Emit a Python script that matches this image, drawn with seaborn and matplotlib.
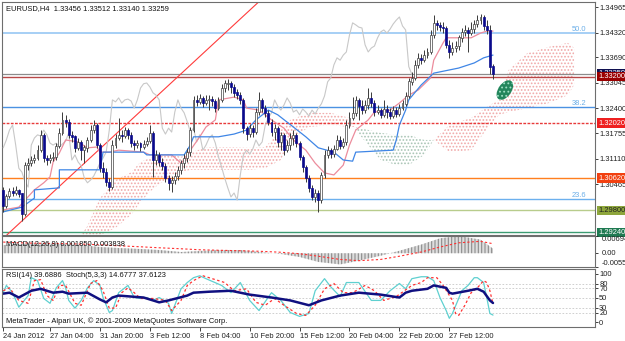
import matplotlib
matplotlib.use("Agg")
import matplotlib.pyplot as plt
import matplotlib.transforms as mtransforms
from matplotlib.patches import Ellipse
import seaborn as sns
import numpy as np

# ---------------- data (EURUSD H4) ----------------
first_open = 1.3032
closes = [1.2991, 1.3016, 1.3029, 1.3024, 1.3032, 1.3022, 1.2971, 1.3095, 1.3100, 1.3108,
          1.3113, 1.3133, 1.3172, 1.3113, 1.3108, 1.3113, 1.3116, 1.3144, 1.3177, 1.3210,
          1.3205, 1.3172, 1.3167, 1.3139, 1.3154, 1.3133, 1.3139, 1.3159, 1.3184, 1.3197,
          1.3146, 1.3087, 1.3077, 1.3052, 1.3039, 1.3146, 1.3164, 1.3172, 1.3169, 1.3184,
          1.3172, 1.3151, 1.3146, 1.3151, 1.3141, 1.3149, 1.3156, 1.3177, 1.3108, 1.3121,
          1.3103, 1.3093, 1.3062, 1.3050, 1.3057, 1.3067, 1.3083, 1.3100, 1.3113, 1.3128,
          1.3184, 1.3261, 1.3256, 1.3266, 1.3253, 1.3261, 1.3263, 1.3258, 1.3240, 1.3261,
          1.3291, 1.3302, 1.3304, 1.3294, 1.3279, 1.3273, 1.3261, 1.3189, 1.3174, 1.3189,
          1.3179, 1.3230, 1.3261, 1.3240, 1.3228, 1.3205, 1.3179, 1.3189, 1.3154, 1.3172,
          1.3133, 1.3146, 1.3164, 1.3172, 1.3151, 1.3116, 1.3090, 1.3062, 1.3037, 1.3014,
          1.3024, 1.3006, 1.3070, 1.3121, 1.3133, 1.3123, 1.3136, 1.3159, 1.3144, 1.3154,
          1.3197, 1.3215, 1.3228, 1.3261, 1.3245, 1.3235, 1.3248, 1.3266, 1.3253, 1.3230,
          1.3235, 1.3223, 1.3238, 1.3230, 1.3220, 1.3235, 1.3225, 1.3240, 1.3251, 1.3271,
          1.3307, 1.3317, 1.3350, 1.3368, 1.3362, 1.3375, 1.3383, 1.3426, 1.3457, 1.3452,
          1.3446, 1.3444, 1.3401, 1.3383, 1.3393, 1.3398, 1.3419, 1.3434, 1.3439, 1.3431,
          1.3441, 1.3454, 1.3464, 1.3472, 1.3449, 1.3439, 1.33456, 1.33259]
highs = [1.3039, 1.3022, 1.3037, 1.3039, 1.3042, 1.3034, 1.3024, 1.3103, 1.3113, 1.3118,
         1.3123, 1.3146, 1.3184, 1.3177, 1.3121, 1.3123, 1.3128, 1.3151, 1.3189, 1.3230,
         1.3223, 1.3212, 1.3182, 1.3172, 1.3164, 1.3159, 1.3146, 1.3167, 1.3197, 1.3210,
         1.3202, 1.3151, 1.3103, 1.3087, 1.3062, 1.3159, 1.3174, 1.3215, 1.3184, 1.3192,
         1.3189, 1.3179, 1.3159, 1.3159, 1.3154, 1.3159, 1.3167, 1.3197, 1.3182, 1.3133,
         1.3128, 1.3113, 1.3100, 1.3070, 1.3067, 1.3077, 1.3093, 1.3108, 1.3123, 1.3139,
         1.3192, 1.3271, 1.3273, 1.3276, 1.3271, 1.3273, 1.3273, 1.3271, 1.3263, 1.3268,
         1.3302, 1.3312, 1.3314, 1.3309, 1.3302, 1.3289, 1.3281, 1.3266, 1.3194, 1.3200,
         1.3197, 1.3240, 1.3281, 1.3266, 1.3248, 1.3235, 1.3212, 1.3200, 1.3194, 1.3179,
         1.3177, 1.3159, 1.3177, 1.3184, 1.3177, 1.3156, 1.3121, 1.3095, 1.3070, 1.3044,
         1.3034, 1.3032, 1.3077, 1.3133, 1.3144, 1.3139, 1.3146, 1.3172, 1.3169, 1.3164,
         1.3210, 1.3230, 1.3268, 1.3271, 1.3266, 1.3261, 1.3261, 1.3291, 1.3281, 1.3261,
         1.3248, 1.3240, 1.3261, 1.3248, 1.3240, 1.3245, 1.3243, 1.3251, 1.3261, 1.3281,
         1.3317, 1.3332, 1.3362, 1.3380, 1.3378, 1.3388, 1.3393, 1.3439, 1.3477, 1.3464,
         1.3459, 1.3459, 1.3449, 1.3413, 1.3408, 1.3411, 1.3426, 1.3444, 1.3452, 1.3446,
         1.3459, 1.3464, 1.3477, 1.3480, 1.3477, 1.3464, 1.3452, 1.33512]
lows = [1.2976, 1.2986, 1.3011, 1.3016, 1.3019, 1.3014, 1.2953, 1.2966, 1.3083, 1.3093,
        1.3100, 1.3108, 1.3128, 1.3103, 1.3095, 1.3100, 1.3105, 1.3108, 1.3139, 1.3172,
        1.3192, 1.3164, 1.3154, 1.3128, 1.3133, 1.3108, 1.3100, 1.3128, 1.3154, 1.3177,
        1.3139, 1.3077, 1.3062, 1.3042, 1.3029, 1.3034, 1.3139, 1.3159, 1.3154, 1.3164,
        1.3161, 1.3141, 1.3133, 1.3139, 1.3131, 1.3136, 1.3144, 1.3151, 1.3065, 1.3095,
        1.3093, 1.3083, 1.3052, 1.3032, 1.3027, 1.3047, 1.3057, 1.3072, 1.3087, 1.3103,
        1.3118, 1.3179, 1.3245, 1.3251, 1.3243, 1.3248, 1.3235, 1.3245, 1.3230, 1.3235,
        1.3256, 1.3281, 1.3286, 1.3279, 1.3268, 1.3263, 1.3251, 1.3177, 1.3159, 1.3167,
        1.3167, 1.3174, 1.3223, 1.3230, 1.3218, 1.3197, 1.3169, 1.3159, 1.3141, 1.3133,
        1.3121, 1.3128, 1.3133, 1.3146, 1.3141, 1.3108, 1.3077, 1.3052, 1.3027, 1.3006,
        1.3001, 1.2976, 1.2999, 1.3062, 1.3113, 1.3113, 1.3116, 1.3133, 1.3136, 1.3139,
        1.3146, 1.3189, 1.3210, 1.3220, 1.3210, 1.3225, 1.3228, 1.3238, 1.3243, 1.3220,
        1.3225, 1.3215, 1.3218, 1.3215, 1.3212, 1.3215, 1.3218, 1.3220, 1.3235, 1.3245,
        1.3266, 1.3299, 1.3312, 1.3342, 1.3352, 1.3357, 1.3368, 1.3378, 1.3419, 1.3439,
        1.3436, 1.3431, 1.3393, 1.3368, 1.3375, 1.3383, 1.3388, 1.3408, 1.3424, 1.3383,
        1.3426, 1.3431, 1.3446, 1.3454, 1.3439, 1.3429, 1.3327, 1.33140]

# Ichimoku lines (bar index, price)
tenkan_bar = [0, 5, 7, 10, 13, 15, 16, 18, 20, 24, 27, 30, 31, 34, 37, 45, 47, 54, 57, 58,
              60, 63, 65, 68, 69, 74, 77, 78, 82, 86, 90, 93, 97, 100, 103, 106, 109, 111,
              113, 117, 119, 124, 127, 130, 133, 137, 138, 141, 142, 146, 150, 153, 155, 157]
tenkan_val = [1.2981, 1.2988, 1.3006, 1.3032, 1.3050, 1.3065, 1.3103, 1.3126, 1.3159, 1.3154,
              1.3139, 1.3141, 1.3128, 1.3128, 1.3133, 1.3128, 1.3121, 1.3121, 1.3100, 1.3108,
              1.3133, 1.3167, 1.3192, 1.3210, 1.3261, 1.3268, 1.3261, 1.3240, 1.3235, 1.3210,
              1.3189, 1.3159, 1.3133, 1.3100, 1.3075, 1.3070, 1.3095, 1.3146, 1.3184, 1.3210,
              1.3230, 1.3235, 1.3253, 1.3273, 1.3286, 1.3317, 1.3362, 1.3406, 1.3419, 1.3419,
              1.3419, 1.3431, 1.3436, 1.3436]
kijun_bar = [0, 6, 10, 10, 18, 18, 31, 32, 45, 46, 58, 60, 61, 69, 74, 78, 81, 85, 88, 93,
             97, 101, 106, 109, 112, 113, 125, 126, 127, 129, 130, 134, 138, 146, 151, 154, 157]
kijun_val = [1.2976, 1.2988, 1.3011, 1.3032, 1.3037, 1.3083, 1.3083, 1.3128, 1.3128, 1.3121,
             1.3121, 1.3146, 1.3167, 1.3167, 1.3174, 1.3184, 1.3210, 1.3235, 1.3223, 1.3192,
             1.3167, 1.3139, 1.3128, 1.3108, 1.3105, 1.3128, 1.3133, 1.3159, 1.3197, 1.3235,
             1.3261, 1.3299, 1.3329, 1.3342, 1.3355, 1.3368, 1.3375]
chikou_shift = 26

# cloud (senkou span A / B), extends 26 bars past the last candle
cloud_bar = [25, 27, 31, 36, 41, 44, 47, 50, 54, 57, 60, 66, 73, 79, 84, 89, 92, 98, 105,
             111, 113, 121, 126, 130, 135, 138, 143, 150, 156, 159, 162, 168, 175, 181, 183]
span_a = [1.2917, 1.2940, 1.3011, 1.3057, 1.3077, 1.3103, 1.3113, 1.3118, 1.3121, 1.3116,
          1.3128, 1.3141, 1.3141, 1.3139, 1.3141, 1.3184, 1.3210, 1.3228, 1.3228, 1.3215,
          1.3184, 1.3108, 1.3095, 1.3095, 1.3121, 1.3159, 1.3197, 1.3215, 1.3248, 1.3261,
          1.3337, 1.3380, 1.3396, 1.3406, 1.3393]
span_b = [1.2917, 1.2917, 1.2917, 1.2935, 1.2968, 1.3001, 1.3027, 1.3047, 1.3067, 1.3077,
          1.3083, 1.3083, 1.3083, 1.3083, 1.3087, 1.3108, 1.3159, 1.3192, 1.3197, 1.3192,
          1.3192, 1.3177, 1.3172, 1.3172, 1.3159, 1.3159, 1.3128, 1.3133, 1.3197, 1.3223,
          1.3230, 1.3240, 1.3253, 1.3273, 1.3299]

# horizontal levels
bid_price = 1.33259
levels = [1.33200, 1.32020, 1.30620, 1.29800, 1.29240]
level_colors = ['#b84848', '#e83a3a', '#ff7f1e', '#b8cc8c', '#3c9c72']
level_box = ['#9a0000', '#ee2020', '#f24010', '#8ea63c', '#1f7a52']
fib_levels = [1.3432, 1.3243, 1.3009]
fib_names = ['50.0', '38.2', '23.6']
trend_anchor = [(6.3, 1.2955), (58.3, 1.3337)]
ellipse_center = (160.8, 1.3286)

price_ticks = [1.34965, 1.34320, 1.33690, 1.33045, 1.32400, 1.31755, 1.31110, 1.30465]

# MACD(12,26,9): main shown as histogram, signal as dotted line
macd_bar = [0, 5, 12, 18, 25, 31, 37, 44, 50, 57, 63, 69, 76, 82, 89, 95, 101, 108, 114,
            121, 127, 134, 140, 146, 153, 157]
macd_main = [0.0033, 0.0037, 0.0041, 0.0037, 0.0033, 0.0025, 0.0021, 0.0017, 0.0013, 0.0005,
             0.0009, 0.0013, 0.0013, 0.0005, -0.0003, -0.0015, -0.0035, -0.0045, -0.0030,
             -0.0010, 0.0010, 0.0035, 0.0060, 0.0069, 0.0055, 0.00185]
macd_sig = [0.0045, 0.0042, 0.0040, 0.0039, 0.0037, 0.0034, 0.0030, 0.0026, 0.0022, 0.0018,
            0.0014, 0.0012, 0.0010, 0.0008, 0.0004, -0.0002, -0.0012, -0.0025, -0.0030,
            -0.0025, -0.0012, 0.0005, 0.0025, 0.0042, 0.0048, 0.003838]

# RSI(14) and Stochastic(5,3,3)
rsi_bar = [0, 2, 5, 9, 12, 16, 19, 21, 27, 31, 33, 35, 37, 45, 48, 50, 53, 59, 61, 66,
           73, 79, 86, 92, 98, 102, 108, 114, 121, 127, 129, 131, 136, 138, 142, 143,
           144, 149, 152, 154, 156, 157]
rsi_val = [59, 61, 51, 65, 69, 61, 63, 59, 61, 47, 41, 51, 55, 51, 45, 41, 45, 55, 61, 63,
           65, 57, 51, 45, 35, 45, 55, 61, 57, 51, 61, 65, 69, 76, 71, 61, 59, 65, 69, 63,
           45, 39.69]
stoch_bar = [0, 1, 3, 5, 8, 9, 11, 13, 15, 17, 19, 20, 21, 23, 25, 27, 29, 31, 32, 34, 35,
             37, 40, 42, 44, 46, 48, 50, 53, 54, 57, 59, 61, 63, 65, 70, 73, 76, 79, 82,
             86, 89, 92, 95, 98, 100, 103, 105, 108, 110, 114, 118, 121, 124, 127, 129,
             131, 134, 136, 138, 140, 142, 143, 144, 146, 147, 149, 151, 152, 154, 155, 156, 157]
stoch_main = [61, 76, 61, 31, 55, 92, 86, 49, 39, 71, 86, 71, 45, 29, 45, 71, 86, 76, 51, 20,
              24, 61, 76, 51, 49, 51, 45, 51, 39, 18, 69, 82, 92, 96, 90, 76, 61, 82, 45, 24,
              61, 45, 20, 12, 18, 65, 90, 73, 53, 82, 82, 45, 45, 65, 80, 69, 90, 94, 94, 86,
              51, 24, 8, 18, 49, 65, 76, 92, 92, 82, 51, 18, 14.68]
stoch_sig_bar = [0, 2, 5, 8, 10, 12, 14, 16, 18, 20, 23, 25, 28, 30, 32, 34, 36, 38, 40, 42,
                 44, 48, 52, 54, 57, 59, 61, 64, 66, 71, 74, 78, 81, 84, 87, 90, 94, 97, 100,
                 103, 106, 109, 112, 116, 119, 122, 126, 131, 134, 136, 139, 141, 144, 145,
                 146, 148, 150, 152, 154, 155, 156, 157]
stoch_sig = [65, 71, 45, 39, 86, 88, 55, 45, 76, 76, 39, 35, 80, 86, 65, 29, 29, 61, 71, 61,
             49, 49, 45, 24, 45, 76, 86, 96, 92, 82, 65, 69, 41, 35, 49, 35, 18, 14, 35, 69,
             80, 61, 61, 76, 65, 45, 53, 76, 82, 92, 92, 76, 45, 18, 14, 35, 61, 71, 86, 82,
             65, 37.61]

date_bar = [0, 15, 31, 47, 63, 79, 95, 111, 127, 143]
date_txt = ['24 Jan 2012', '27 Jan 04:00', '31 Jan 20:00', '3 Feb 12:00', '8 Feb 04:00',
            '10 Feb 20:00', '15 Feb 12:00', '20 Feb 04:00', '22 Feb 20:00', '27 Feb 12:00']

# ---------------- figure ----------------
sns.set_theme(style="white")
plt.rcParams['font.family'] = ['Liberation Sans', 'DejaVu Sans']
plt.rcParams['hatch.linewidth'] = 0.8
FS = 5.4

W, H = 625, 341
fig = plt.figure(figsize=(W / 100, H / 100), dpi=100, facecolor='white')
left, right = 2 / W, 595 / W
ax = fig.add_axes([left, 1 - 235 / H, right - left, 233 / H])
ax_macd = fig.add_axes([left, 1 - 267 / H, right - left, 31 / H])
ax_rsi = fig.add_axes([left, 1 - 327 / H, right - left, 58 / H])

xlim = (-0.39, 189.7)
for a in (ax, ax_macd, ax_rsi):
    a.set_xlim(*xlim)
    a.set_facecolor('white')
    for s in a.spines.values():
        s.set_color('#6e6e6e')
        s.set_linewidth(0.8)
    a.tick_params(axis='both', labelsize=FS, colors='#202020', length=2, width=0.6, pad=1)
    a.yaxis.tick_right()
    a.set_xticks([])

ax.set_ylim(1.29171, 1.35101)

closes_a = np.array(closes)
opens_a = np.r_[first_open, closes_a[:-1]]
highs_a = np.maximum.reduce([np.array(highs), opens_a, closes_a])
lows_a = np.minimum.reduce([np.array(lows), opens_a, closes_a])
bars = np.arange(len(closes_a))

# cloud
cb = np.array(cloud_bar)
sa, sb = np.array(span_a), np.array(span_b)
ax.fill_between(cb, sa, sb, where=sa >= sb, interpolate=True, facecolor='none',
                edgecolor='#f0a8a8', hatch='.....', linewidth=0, zorder=1)
ax.fill_between(cb, sa, sb, where=sa < sb, interpolate=True, facecolor='none',
                edgecolor='#a8c4b4', hatch='.....', linewidth=0, zorder=1)

# horizontal levels
for p, c in zip(fib_levels, ['#a6cff5', '#4b92e2', '#6cb0ee']):
    ax.axhline(p, color=c, lw=1.4 if p == fib_levels[0] else 1.0, zorder=2)
blend = mtransforms.blended_transform_factory(ax.transAxes, ax.transData)
for p, name in zip(fib_levels, fib_names):
    ax.text(0.986, p, name, transform=blend, ha='right', va='bottom', fontsize=FS,
            color='#6aaee8')
ax.axhline(bid_price, color='#8c8c8c', lw=0.9, zorder=2)
for p, c in zip(levels, level_colors):
    ls = (0, (2, 1)) if p == 1.32020 else '-'
    ax.axhline(p, color=c, lw=1.0, ls=ls, zorder=2)
ax.axline(trend_anchor[0], trend_anchor[1], color='#ff3b3b', lw=0.8, zorder=2)

# chikou, tenkan, kijun
sns.lineplot(x=bars[:-chikou_shift], y=closes_a[chikou_shift:], ax=ax, color='#c8c8c8',
             lw=0.8, estimator=None, sort=False, zorder=3)
sns.lineplot(x=tenkan_bar, y=tenkan_val, ax=ax, color='#ec8c9c', lw=0.9,
             estimator=None, sort=False, zorder=3)
sns.lineplot(x=kijun_bar, y=kijun_val, ax=ax, color='#3f86e6', lw=0.9,
             estimator=None, sort=False, zorder=3)

# candles
bull = closes_a >= opens_a
ax.vlines(bars, lows_a, highs_a, color='#3a3a3a', lw=0.7, zorder=4)
ax.bar(bars, np.abs(closes_a - opens_a) + 0.00008, bottom=np.minimum(opens_a, closes_a),
       width=0.62, color=np.where(bull, '#ffffff', '#0a0a8c'),
       edgecolor=np.where(bull, '#404040', '#0a0a8c'), linewidth=0.5, zorder=5)

# green marker ellipse
ex, ey = ax.transData.transform(ellipse_center)
fig.patches.append(Ellipse((ex, ey), 13, 22, angle=-35, transform=None,
                           facecolor='#23865c', edgecolor='#9fe0c4', hatch='....', lw=0,
                           zorder=6))

ax.set_yticks(price_ticks)
ax.set_yticklabels([f'{p:.5f}' for p in price_ticks])
ax.text(1.005, bid_price + 0.0002, f'{bid_price:.5f}', transform=blend, fontsize=FS,
        color='white', va='center', ha='left',
        bbox=dict(boxstyle='square,pad=0.15', fc='#101050', ec='none'))
for p, bc in zip(levels, level_box):
    ax.text(1.005, p, f'{p:.5f}', transform=blend, fontsize=FS,
            color='#202020' if p == 1.29800 else 'white', va='center', ha='left',
            bbox=dict(boxstyle='square,pad=0.15', fc=bc, ec='none'), zorder=10, clip_on=False)
ax.text(0.007, 0.985, 'EURUSD,H4  1.33456 1.33512 1.33140 1.33259', transform=ax.transAxes,
        fontsize=FS, va='top', ha='left', color='#101010')

# MACD panel
ax_macd.set_ylim(-0.00554, 0.00694)
ax_macd.fill_between(macd_bar, 0, macd_main, facecolor='#dedede', edgecolor='#8c8c8c',
                     hatch='|||||', linewidth=0, zorder=1)
sns.lineplot(x=macd_bar, y=macd_sig, ax=ax_macd, color='#ff3030', lw=0.8,
             linestyle=(0, (2, 2)), estimator=None, sort=False, zorder=2)
ax_macd.set_yticks([0.00694, 0.0, -0.00554])
ax_macd.set_yticklabels(['', '', ''])
bm = mtransforms.blended_transform_factory(ax_macd.transAxes, ax_macd.transData)
for v, t, va in [(0.00694, '0.00694', 'top'), (0.0, '0.00', 'center'),
                 (-0.00554, '-0.00554', 'bottom')]:
    ax_macd.text(1.012, v, t, transform=bm, fontsize=FS, va=va, ha='left', color='#202020')
ax_macd.text(0.007, 0.83, 'MACD(12,26,9) 0.001850 0.003838', transform=ax_macd.transAxes,
             fontsize=FS, va='top', ha='left', color='#101010', zorder=5)

# RSI / Stochastic panel
ax_rsi.set_ylim(-10, 110)
for lv in [20, 30, 50, 70, 80]:
    ax_rsi.axhline(lv, color='#c8c8c8', lw=0.6, ls=(0, (2, 2)))
sns.lineplot(x=stoch_bar, y=stoch_main, ax=ax_rsi, color='#5fd0d0', lw=0.9,
             estimator=None, sort=False)
sns.lineplot(x=stoch_sig_bar, y=stoch_sig, ax=ax_rsi, color='#ff3030', lw=0.9,
             linestyle=(0, (2, 2)), estimator=None, sort=False)
sns.lineplot(x=rsi_bar, y=rsi_val, ax=ax_rsi, color='#101080', lw=1.8,
             estimator=None, sort=False)
ax_rsi.set_yticks([100, 80, 70, 50, 30, 20, 0])
ax_rsi.set_yticklabels(['100', '80', '70', '50', '30', '20', '0'])
ax_rsi.text(0.007, 0.95, 'RSI(14) 39.6886  Stoch(5,3,3) 14.6777 37.6123',
            transform=ax_rsi.transAxes, fontsize=FS, va='top', ha='left', color='#101010')
ax_rsi.text(0.007, 0.04, 'MetaTrader - Alpari UK, \u00a9 2001-2009 MetaQuotes Software Corp.',
            transform=ax_rsi.transAxes, fontsize=FS, va='bottom', ha='left', color='#101010')
ax_rsi.set_xticks(date_bar)
ax_rsi.set_xticklabels(date_txt, ha='left')
ax_rsi.tick_params(axis='x', length=3, pad=1.5, direction='out', bottom=True)
for a in (ax, ax_macd, ax_rsi):
    a.set_xlabel('')
    a.set_ylabel('')

fig.savefig('out.png', dpi=100, facecolor='white')
